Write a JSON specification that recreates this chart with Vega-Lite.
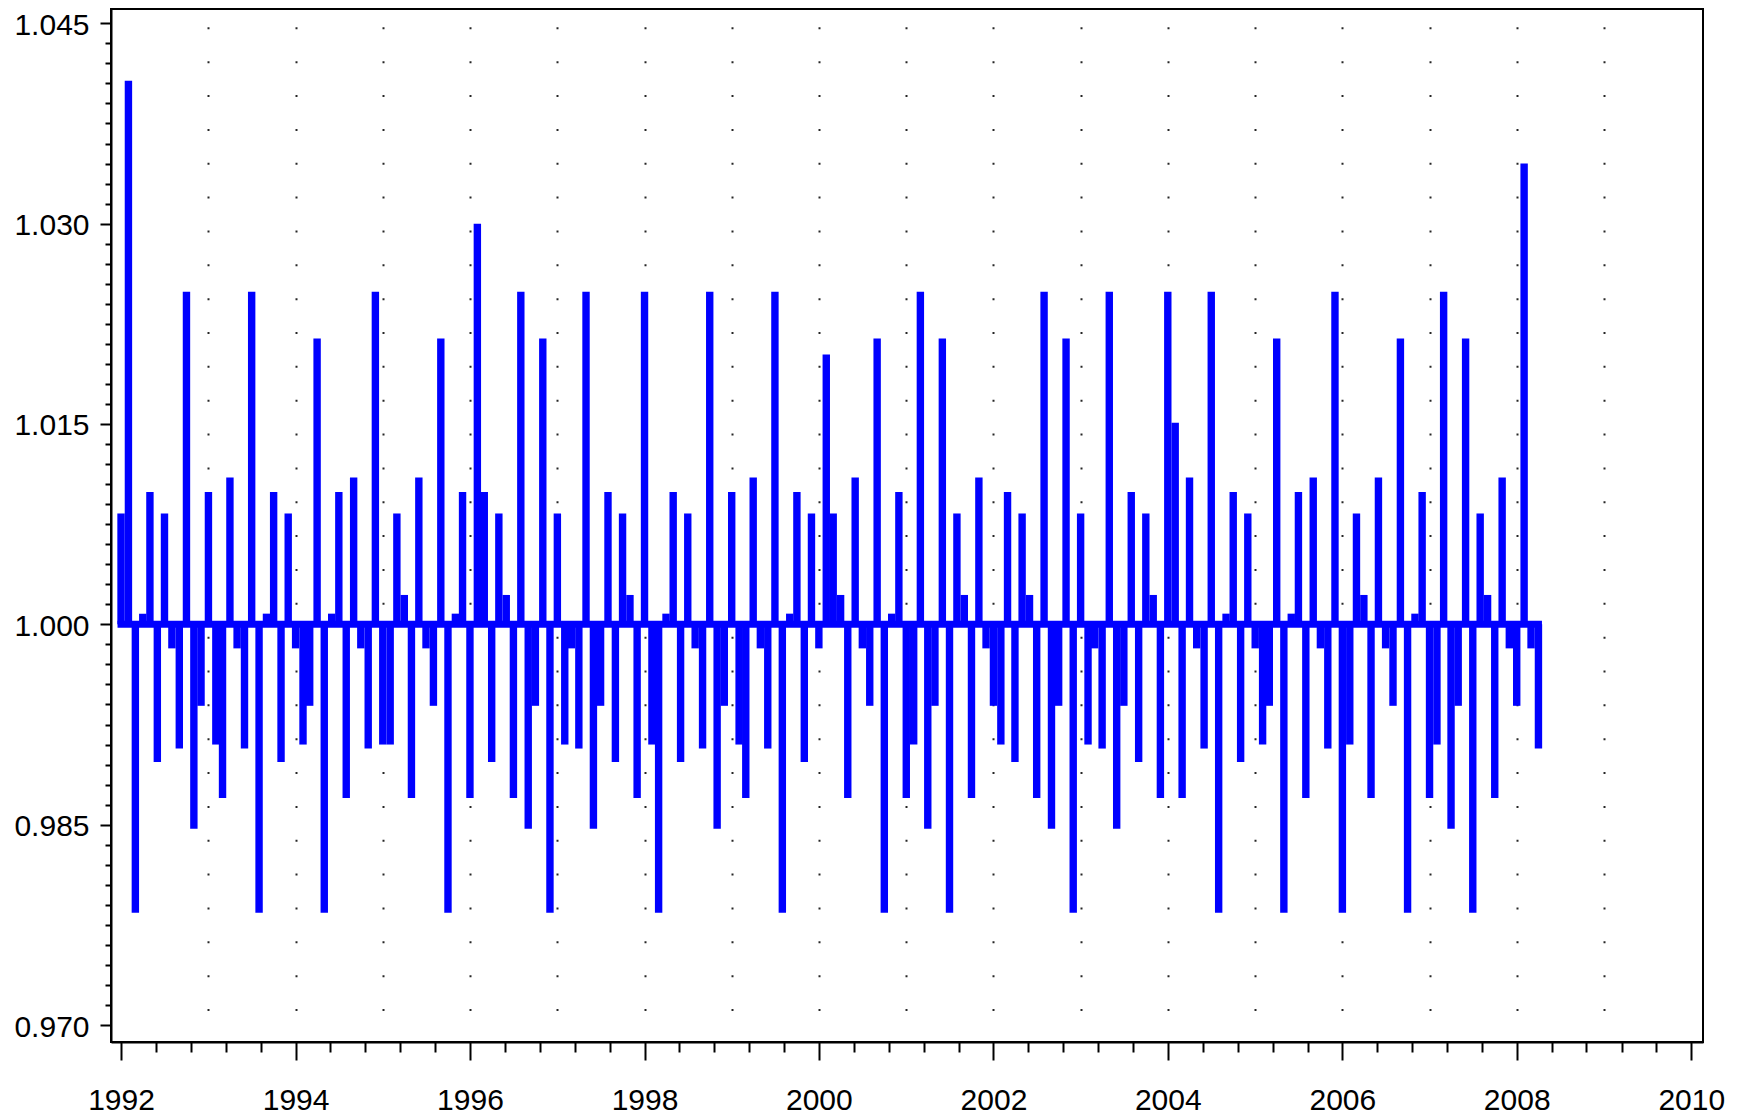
{
  "$schema": "https://vega.github.io/schema/vega-lite/v6.json",
  "width": 1592,
  "height": 1033,
  "autosize": {"type": "none"},
  "padding": {"left": 111, "top": 9, "right": 39, "bottom": 72},
  "background": "white",
  "config": {
    "view": {"stroke": "black", "strokeWidth": 2},
    "axis": {
      "labelFont": "Liberation Sans",
      "labelFontSize": 30,
      "labelColor": "black",
      "domainColor": "black",
      "domainWidth": 2,
      "tickColor": "black",
      "tickWidth": 2,
      "labelFlush": false,
      "labelOverlap": false,
      "labelBound": false
    }
  },
  "data": {
    "values": [
      {"d": "1992-01", "v": 1.0083}, {"d": "1992-02", "v": 1.0407}, {"d": "1992-03", "v": 0.9784}, {"d": "1992-04", "v": 1.0008}, {"d": "1992-05", "v": 1.0099}, {"d": "1992-06", "v": 0.9897}, {"d": "1992-07", "v": 1.0083}, {"d": "1992-08", "v": 0.9982}, {"d": "1992-09", "v": 0.9907}, {"d": "1992-10", "v": 1.0249}, {"d": "1992-11", "v": 0.9847}, {"d": "1992-12", "v": 0.9939},
      {"d": "1993-01", "v": 1.0099}, {"d": "1993-02", "v": 0.9910}, {"d": "1993-03", "v": 0.9870}, {"d": "1993-04", "v": 1.0110}, {"d": "1993-05", "v": 0.9982}, {"d": "1993-06", "v": 0.9907}, {"d": "1993-07", "v": 1.0249}, {"d": "1993-08", "v": 0.9784}, {"d": "1993-09", "v": 1.0008}, {"d": "1993-10", "v": 1.0099}, {"d": "1993-11", "v": 0.9897}, {"d": "1993-12", "v": 1.0083},
      {"d": "1994-01", "v": 0.9982}, {"d": "1994-02", "v": 0.9910}, {"d": "1994-03", "v": 0.9939}, {"d": "1994-04", "v": 1.0214}, {"d": "1994-05", "v": 0.9784}, {"d": "1994-06", "v": 1.0008}, {"d": "1994-07", "v": 1.0099}, {"d": "1994-08", "v": 0.9870}, {"d": "1994-09", "v": 1.0110}, {"d": "1994-10", "v": 0.9982}, {"d": "1994-11", "v": 0.9907}, {"d": "1994-12", "v": 1.0249},
      {"d": "1995-01", "v": 0.9910}, {"d": "1995-02", "v": 0.9910}, {"d": "1995-03", "v": 1.0083}, {"d": "1995-04", "v": 1.0022}, {"d": "1995-05", "v": 0.9870}, {"d": "1995-06", "v": 1.0110}, {"d": "1995-07", "v": 0.9982}, {"d": "1995-08", "v": 0.9939}, {"d": "1995-09", "v": 1.0214}, {"d": "1995-10", "v": 0.9784}, {"d": "1995-11", "v": 1.0008}, {"d": "1995-12", "v": 1.0099},
      {"d": "1996-01", "v": 0.9870}, {"d": "1996-02", "v": 1.0300}, {"d": "1996-03", "v": 1.0099}, {"d": "1996-04", "v": 0.9897}, {"d": "1996-05", "v": 1.0083}, {"d": "1996-06", "v": 1.0022}, {"d": "1996-07", "v": 0.9870}, {"d": "1996-08", "v": 1.0249}, {"d": "1996-09", "v": 0.9847}, {"d": "1996-10", "v": 0.9939}, {"d": "1996-11", "v": 1.0214}, {"d": "1996-12", "v": 0.9784},
      {"d": "1997-01", "v": 1.0083}, {"d": "1997-02", "v": 0.9910}, {"d": "1997-03", "v": 0.9982}, {"d": "1997-04", "v": 0.9907}, {"d": "1997-05", "v": 1.0249}, {"d": "1997-06", "v": 0.9847}, {"d": "1997-07", "v": 0.9939}, {"d": "1997-08", "v": 1.0099}, {"d": "1997-09", "v": 0.9897}, {"d": "1997-10", "v": 1.0083}, {"d": "1997-11", "v": 1.0022}, {"d": "1997-12", "v": 0.9870},
      {"d": "1998-01", "v": 1.0249}, {"d": "1998-02", "v": 0.9910}, {"d": "1998-03", "v": 0.9784}, {"d": "1998-04", "v": 1.0008}, {"d": "1998-05", "v": 1.0099}, {"d": "1998-06", "v": 0.9897}, {"d": "1998-07", "v": 1.0083}, {"d": "1998-08", "v": 0.9982}, {"d": "1998-09", "v": 0.9907}, {"d": "1998-10", "v": 1.0249}, {"d": "1998-11", "v": 0.9847}, {"d": "1998-12", "v": 0.9939},
      {"d": "1999-01", "v": 1.0099}, {"d": "1999-02", "v": 0.9910}, {"d": "1999-03", "v": 0.9870}, {"d": "1999-04", "v": 1.0110}, {"d": "1999-05", "v": 0.9982}, {"d": "1999-06", "v": 0.9907}, {"d": "1999-07", "v": 1.0249}, {"d": "1999-08", "v": 0.9784}, {"d": "1999-09", "v": 1.0008}, {"d": "1999-10", "v": 1.0099}, {"d": "1999-11", "v": 0.9897}, {"d": "1999-12", "v": 1.0083},
      {"d": "2000-01", "v": 0.9982}, {"d": "2000-02", "v": 1.0202}, {"d": "2000-03", "v": 1.0083}, {"d": "2000-04", "v": 1.0022}, {"d": "2000-05", "v": 0.9870}, {"d": "2000-06", "v": 1.0110}, {"d": "2000-07", "v": 0.9982}, {"d": "2000-08", "v": 0.9939}, {"d": "2000-09", "v": 1.0214}, {"d": "2000-10", "v": 0.9784}, {"d": "2000-11", "v": 1.0008}, {"d": "2000-12", "v": 1.0099},
      {"d": "2001-01", "v": 0.9870}, {"d": "2001-02", "v": 0.9910}, {"d": "2001-03", "v": 1.0249}, {"d": "2001-04", "v": 0.9847}, {"d": "2001-05", "v": 0.9939}, {"d": "2001-06", "v": 1.0214}, {"d": "2001-07", "v": 0.9784}, {"d": "2001-08", "v": 1.0083}, {"d": "2001-09", "v": 1.0022}, {"d": "2001-10", "v": 0.9870}, {"d": "2001-11", "v": 1.0110}, {"d": "2001-12", "v": 0.9982},
      {"d": "2002-01", "v": 0.9939}, {"d": "2002-02", "v": 0.9910}, {"d": "2002-03", "v": 1.0099}, {"d": "2002-04", "v": 0.9897}, {"d": "2002-05", "v": 1.0083}, {"d": "2002-06", "v": 1.0022}, {"d": "2002-07", "v": 0.9870}, {"d": "2002-08", "v": 1.0249}, {"d": "2002-09", "v": 0.9847}, {"d": "2002-10", "v": 0.9939}, {"d": "2002-11", "v": 1.0214}, {"d": "2002-12", "v": 0.9784},
      {"d": "2003-01", "v": 1.0083}, {"d": "2003-02", "v": 0.9910}, {"d": "2003-03", "v": 0.9982}, {"d": "2003-04", "v": 0.9907}, {"d": "2003-05", "v": 1.0249}, {"d": "2003-06", "v": 0.9847}, {"d": "2003-07", "v": 0.9939}, {"d": "2003-08", "v": 1.0099}, {"d": "2003-09", "v": 0.9897}, {"d": "2003-10", "v": 1.0083}, {"d": "2003-11", "v": 1.0022}, {"d": "2003-12", "v": 0.9870},
      {"d": "2004-01", "v": 1.0249}, {"d": "2004-02", "v": 1.0151}, {"d": "2004-03", "v": 0.9870}, {"d": "2004-04", "v": 1.0110}, {"d": "2004-05", "v": 0.9982}, {"d": "2004-06", "v": 0.9907}, {"d": "2004-07", "v": 1.0249}, {"d": "2004-08", "v": 0.9784}, {"d": "2004-09", "v": 1.0008}, {"d": "2004-10", "v": 1.0099}, {"d": "2004-11", "v": 0.9897}, {"d": "2004-12", "v": 1.0083},
      {"d": "2005-01", "v": 0.9982}, {"d": "2005-02", "v": 0.9910}, {"d": "2005-03", "v": 0.9939}, {"d": "2005-04", "v": 1.0214}, {"d": "2005-05", "v": 0.9784}, {"d": "2005-06", "v": 1.0008}, {"d": "2005-07", "v": 1.0099}, {"d": "2005-08", "v": 0.9870}, {"d": "2005-09", "v": 1.0110}, {"d": "2005-10", "v": 0.9982}, {"d": "2005-11", "v": 0.9907}, {"d": "2005-12", "v": 1.0249},
      {"d": "2006-01", "v": 0.9784}, {"d": "2006-02", "v": 0.9910}, {"d": "2006-03", "v": 1.0083}, {"d": "2006-04", "v": 1.0022}, {"d": "2006-05", "v": 0.9870}, {"d": "2006-06", "v": 1.0110}, {"d": "2006-07", "v": 0.9982}, {"d": "2006-08", "v": 0.9939}, {"d": "2006-09", "v": 1.0214}, {"d": "2006-10", "v": 0.9784}, {"d": "2006-11", "v": 1.0008}, {"d": "2006-12", "v": 1.0099},
      {"d": "2007-01", "v": 0.9870}, {"d": "2007-02", "v": 0.9910}, {"d": "2007-03", "v": 1.0249}, {"d": "2007-04", "v": 0.9847}, {"d": "2007-05", "v": 0.9939}, {"d": "2007-06", "v": 1.0214}, {"d": "2007-07", "v": 0.9784}, {"d": "2007-08", "v": 1.0083}, {"d": "2007-09", "v": 1.0022}, {"d": "2007-10", "v": 0.9870}, {"d": "2007-11", "v": 1.0110}, {"d": "2007-12", "v": 0.9982},
      {"d": "2008-01", "v": 0.9939}, {"d": "2008-02", "v": 1.0345}, {"d": "2008-03", "v": 0.9982}, {"d": "2008-04", "v": 0.9907}
    ]
  },
  "layer": [
    {
      "mark": {"type": "bar", "width": 7.4, "color": "#0000FF"},
      "encoding": {
        "x": {
          "field": "d",
          "type": "temporal",
          "scale": {"type": "utc", "nice": false, "padding": 0, "domain": [{"year": 1991, "month": 11, "date": 20, "utc": true}, {"year": 2010, "month": 2, "date": 19, "utc": true}]},
          "axis": {
            "title": null,
            "orient": "bottom",
            "values": [
              {"year": 1992, "utc": true}, {"year": 1993, "utc": true}, {"year": 1994, "utc": true}, {"year": 1995, "utc": true},
              {"year": 1996, "utc": true}, {"year": 1997, "utc": true}, {"year": 1998, "utc": true}, {"year": 1999, "utc": true},
              {"year": 2000, "utc": true}, {"year": 2001, "utc": true}, {"year": 2002, "utc": true}, {"year": 2003, "utc": true},
              {"year": 2004, "utc": true}, {"year": 2005, "utc": true}, {"year": 2006, "utc": true}, {"year": 2007, "utc": true},
              {"year": 2008, "utc": true}, {"year": 2009, "utc": true}, {"year": 2010, "utc": true}
            ],
            "tickSize": 18,
            "labelPadding": 25,
            "labelExpr": "utcyear(datum.value) % 2 == 0 ? utcFormat(datum.value, '%Y') : ''",
            "tickOpacity": {"condition": {"test": "utcyear(datum.value) % 2 == 1", "value": 0}, "value": 1},
            "grid": true,
            "gridColor": "black",
            "gridWidth": 2,
            "gridDash": [2, 31.85],
            "gridDashOffset": 16,
            "gridOpacity": {"condition": {"test": "utcyear(datum.value) < 1993 || utcyear(datum.value) > 2009", "value": 0}, "value": 0.85}
          }
        },
        "y": {
          "field": "v",
          "type": "quantitative",
          "scale": {"domain": [0.96873, 1.04607], "nice": false, "zero": false, "padding": 0},
          "axis": {
            "title": null,
            "orient": "left",
            "values": [0.970, 0.985, 1.000, 1.015, 1.030, 1.045],
            "format": ".3f",
            "tickSize": 11,
            "labelPadding": 11,
            "labelOffset": 2,
            "grid": false
          }
        },
        "y2": {"datum": 1}
      }
    },
    {
      "mark": {"type": "line", "strokeWidth": 7, "strokeCap": "square", "color": "#0000FF"},
      "encoding": {
        "x": {
          "field": "d",
          "type": "temporal",
          "scale": {"type": "utc", "nice": false, "padding": 0, "domain": [{"year": 1991, "month": 11, "date": 20, "utc": true}, {"year": 2010, "month": 2, "date": 19, "utc": true}]},
          "axis": {
            "title": null,
            "orient": "bottom",
            "values": [
              {"year": 1992, "month": 5, "date": 27, "utc": true}, {"year": 1992, "month": 10, "date": 19, "utc": true}, {"year": 1993, "month": 3, "date": 15, "utc": true}, {"year": 1993, "month": 8, "date": 8, "utc": true},
              {"year": 1994, "month": 5, "date": 27, "utc": true}, {"year": 1994, "month": 10, "date": 19, "utc": true}, {"year": 1995, "month": 3, "date": 15, "utc": true}, {"year": 1995, "month": 8, "date": 8, "utc": true},
              {"year": 1996, "month": 5, "date": 27, "utc": true}, {"year": 1996, "month": 10, "date": 19, "utc": true}, {"year": 1997, "month": 3, "date": 15, "utc": true}, {"year": 1997, "month": 8, "date": 8, "utc": true},
              {"year": 1998, "month": 5, "date": 27, "utc": true}, {"year": 1998, "month": 10, "date": 19, "utc": true}, {"year": 1999, "month": 3, "date": 15, "utc": true}, {"year": 1999, "month": 8, "date": 8, "utc": true},
              {"year": 2000, "month": 5, "date": 27, "utc": true}, {"year": 2000, "month": 10, "date": 19, "utc": true}, {"year": 2001, "month": 3, "date": 15, "utc": true}, {"year": 2001, "month": 8, "date": 8, "utc": true},
              {"year": 2002, "month": 5, "date": 27, "utc": true}, {"year": 2002, "month": 10, "date": 19, "utc": true}, {"year": 2003, "month": 3, "date": 15, "utc": true}, {"year": 2003, "month": 8, "date": 8, "utc": true},
              {"year": 2004, "month": 5, "date": 27, "utc": true}, {"year": 2004, "month": 10, "date": 19, "utc": true}, {"year": 2005, "month": 3, "date": 15, "utc": true}, {"year": 2005, "month": 8, "date": 8, "utc": true},
              {"year": 2006, "month": 5, "date": 27, "utc": true}, {"year": 2006, "month": 10, "date": 19, "utc": true}, {"year": 2007, "month": 3, "date": 15, "utc": true}, {"year": 2007, "month": 8, "date": 8, "utc": true},
              {"year": 2008, "month": 5, "date": 27, "utc": true}, {"year": 2008, "month": 10, "date": 19, "utc": true}, {"year": 2009, "month": 3, "date": 15, "utc": true}, {"year": 2009, "month": 8, "date": 8, "utc": true}
            ],
            "tickSize": 10,
            "labels": false,
            "domain": false,
            "grid": false
          }
        },
        "y": {
          "datum": 1,
          "type": "quantitative",
          "scale": {"domain": [0.96873, 1.04607], "nice": false, "zero": false, "padding": 0},
          "axis": {
            "title": null,
            "orient": "left",
            "values": [0.9715, 0.973, 0.9745, 0.976, 0.9775, 0.979, 0.9805, 0.982, 0.9835, 0.9865, 0.988, 0.9895, 0.991, 0.9925, 0.994, 0.9955, 0.997, 0.9985, 1.0015, 1.003, 1.0045, 1.006, 1.0075, 1.009, 1.0105, 1.012, 1.0135, 1.0165, 1.018, 1.0195, 1.021, 1.0225, 1.024, 1.0255, 1.027, 1.0285, 1.0315, 1.033, 1.0345, 1.036, 1.0375, 1.039, 1.0405, 1.042, 1.0435],
            "tickSize": 6,
            "labels": false,
            "domain": false,
            "grid": false
          }
        }
      }
    }
  ],
  "resolve": {"axis": {"x": "independent", "y": "independent"}}
}
